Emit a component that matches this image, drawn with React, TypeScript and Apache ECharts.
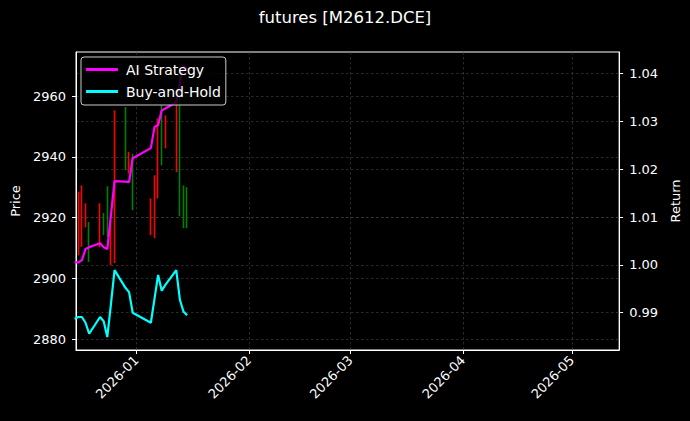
import { useEffect, useRef } from 'react';
import * as echarts from 'echarts';

// trading days shown on the chart
const tradeDates = [
  '2025-12-15', '2025-12-16', '2025-12-17', '2025-12-18', '2025-12-19',
  '2025-12-22', '2025-12-23', '2025-12-24', '2025-12-25', '2025-12-26',
  '2025-12-29', '2025-12-30', '2025-12-31',
  '2026-01-05', '2026-01-06', '2026-01-07', '2026-01-08', '2026-01-09',
  '2026-01-12', '2026-01-13', '2026-01-14', '2026-01-15',
];

// candles: open / close / low / high
const priceOpen = [2914, 2917, 2915, 2918, 2917, 2913, 2920, 2928, 2908, 2910, 2954, 2935, 2939, 2916, 2918, 2930, 2954, 2945, 2940, 2962, 2929, 2928];
const priceClose = [2919, 2921, 2924, 2922, 2909, 2921, 2916, 2917, 2917, 2950, 2940, 2940, 2925, 2924, 2930, 2950, 2940, 2951, 2958, 2925, 2921, 2922];
const priceLow = [2881, 2907.6, 2910.4, 2916.8, 2905.4, 2910.2, 2914.2, 2913.6, 2904.3, 2905, 2935.6, 2934.5, 2922.4, 2914.2, 2913.2, 2926.3, 2937.2, 2942.8, 2934.9, 2920.4, 2916.5, 2916.5];
const priceHigh = [2926, 2928.5, 2930.6, 2924.7, 2918.6, 2924.7, 2921.5, 2930.3, 2919, 2955.3, 2956.4, 2941.6, 2941, 2926.3, 2933.9, 2952.7, 2957, 2953.6, 2962.5, 2970, 2930.6, 2930];

// cumulative returns (right axis)
const aiStrategy = [1.0005, 1.0005, 1.001, 1.0033, 1.0037, 1.0045, 1.0037, 1.0033, 1.0104, 1.0175, 1.0174, 1.0173, 1.0223, 1.0244, 1.0288, 1.0292, 1.0323, 1.0327, 1.034, 1.038, 1.0417, 1.041];
const buyAndHold = [0.9887, 0.9891, 0.9891, 0.9879, 0.9856, 0.9891, 0.9882, 0.9849, 0.9918, 0.9989, 0.9952, 0.9943, 0.99, 0.9879, 0.9929, 0.9979, 0.9946, 0.9958, 0.9989, 0.9927, 0.9902, 0.9895];

// axis ticks
const monthTicks = ['2026-01-01', '2026-02-01', '2026-03-01', '2026-04-01', '2026-05-01'];
const priceTicks = [2880, 2900, 2920, 2940, 2960];
const returnTicks = [0.99, 1.0, 1.01, 1.02, 1.03, 1.04];

const FONT = 'DejaVu Sans';
const ts = (s: string) => new Date(s.length > 10 ? s : s + 'T00:00:00').getTime();

export default function App() {
  const chartRef = useRef<HTMLDivElement>(null);

  useEffect(() => {
    document.body.style.margin = '0';
    document.body.style.background = '#000';
    if (!chartRef.current) return;
    const chart = echarts.init(chartRef.current, null, { renderer: 'svg' });

    const grid = { lineStyle: { color: '#474747', width: 0.6, type: [2.5, 2.5] as number[] } };
    const tick = { show: true, length: 4, lineStyle: { color: '#fff' } };

    const option: echarts.EChartsOption = {
      animation: false,
      backgroundColor: '#000',
      textStyle: { fontFamily: FONT },
      title: {
        text: 'futures [M2612.DCE]',
        left: 'center',
        top: 4,
        textStyle: { color: '#fff', fontSize: 16.5, fontWeight: 'normal', fontFamily: FONT },
      },
      legend: {
        data: ['AI Strategy', 'Buy-and-Hold'],
        orient: 'vertical',
        left: 81,
        top: 57,
        icon: 'rect',
        itemWidth: 32,
        itemHeight: 3,
        itemGap: 7,
        padding: [5, 5, 6, 5],
        backgroundColor: 'rgba(0,0,0,0.8)',
        borderColor: '#ccc',
        borderWidth: 1,
        borderRadius: 3,
        textStyle: { color: '#fff', fontSize: 14, lineHeight: 15, fontFamily: FONT, padding: [0, 0, 0, 3] },
      },
      grid: {
        left: 76,
        right: 69,
        top: 52,
        bottom: 71,
        show: true,
        borderColor: '#fff',
        borderWidth: 1,
      },
      xAxis: {
        type: 'value',
        min: ts('2025-12-15T09:00:00'),
        max: ts('2026-05-14T00:45:00'),
        axisLine: { show: true, onZero: false, lineStyle: { color: '#fff' } },
        axisTick: { ...tick, customValues: monthTicks.map(ts) },
        axisLabel: {
          customValues: monthTicks.map(ts),
          rotate: 45,
          margin: 8,
          color: '#fff',
          fontSize: 13,
          fontFamily: FONT,
          formatter: (v: number) => {
            const d = new Date(v);
            return `${d.getFullYear()}-${String(d.getMonth() + 1).padStart(2, '0')}`;
          },
        },
        splitLine: { show: true, ...grid },
      },
      yAxis: [
        {
          type: 'value',
          position: 'left',
          min: 2876.4,
          max: 2974.5,
          name: 'Price',
          nameLocation: 'middle',
          nameRotate: 90,
          nameGap: 51,
          nameTextStyle: { color: '#fff', fontSize: 13, fontFamily: FONT },
          axisLine: { show: true, lineStyle: { color: '#fff' } },
          axisTick: { ...tick, customValues: priceTicks },
          axisLabel: {
            customValues: priceTicks,
            color: '#fff',
            fontSize: 13,
            margin: 10,
            fontFamily: FONT,
            formatter: (v: number) => String(v),
          },
          splitLine: { show: true, ...grid },
        },
        {
          type: 'value',
          position: 'right',
          min: 0.9822,
          max: 1.0445,
          name: 'Return',
          nameLocation: 'middle',
          nameRotate: 90,
          nameGap: 41,
          nameTextStyle: { color: '#fff', fontSize: 13, fontFamily: FONT },
          axisLine: { show: true, lineStyle: { color: '#fff' } },
          axisTick: { ...tick, customValues: returnTicks },
          axisLabel: {
            customValues: returnTicks,
            color: '#fff',
            fontSize: 13,
            margin: 10,
            fontFamily: FONT,
            formatter: (v: number) => v.toFixed(2),
          },
          splitLine: { show: true, ...grid },
        },
      ],
      series: [
        {
          name: 'Price',
          type: 'candlestick',
          yAxisIndex: 0,
          barWidth: 1,
          data: tradeDates.map((d, i) => [ts(d), priceOpen[i], priceClose[i], priceLow[i], priceHigh[i]]),
          encode: { x: 0, y: [1, 2, 3, 4] },
          itemStyle: {
            color: '#ff0000',
            color0: '#008000',
            borderColor: '#ff0000',
            borderColor0: '#008000',
            borderWidth: 1.6,
          },
        },
        {
          name: 'AI Strategy',
          type: 'line',
          yAxisIndex: 1,
          showSymbol: false,
          symbol: 'none',
          lineStyle: { color: '#ff00ff', width: 2.2 },
          itemStyle: { color: '#ff00ff' },
          data: tradeDates.map((d, i) => [ts(d), aiStrategy[i]]),
        },
        {
          name: 'Buy-and-Hold',
          type: 'line',
          yAxisIndex: 1,
          showSymbol: false,
          symbol: 'none',
          lineStyle: { color: '#00ffff', width: 2.2 },
          itemStyle: { color: '#00ffff' },
          data: tradeDates.map((d, i) => [ts(d), buyAndHold[i]]),
        },
      ],
    };

    chart.setOption(option);
    return () => {
      chart.dispose();
    };
  }, []);

  return <div ref={chartRef} style={{ width: 690, height: 421, background: '#000' }} />;
}
